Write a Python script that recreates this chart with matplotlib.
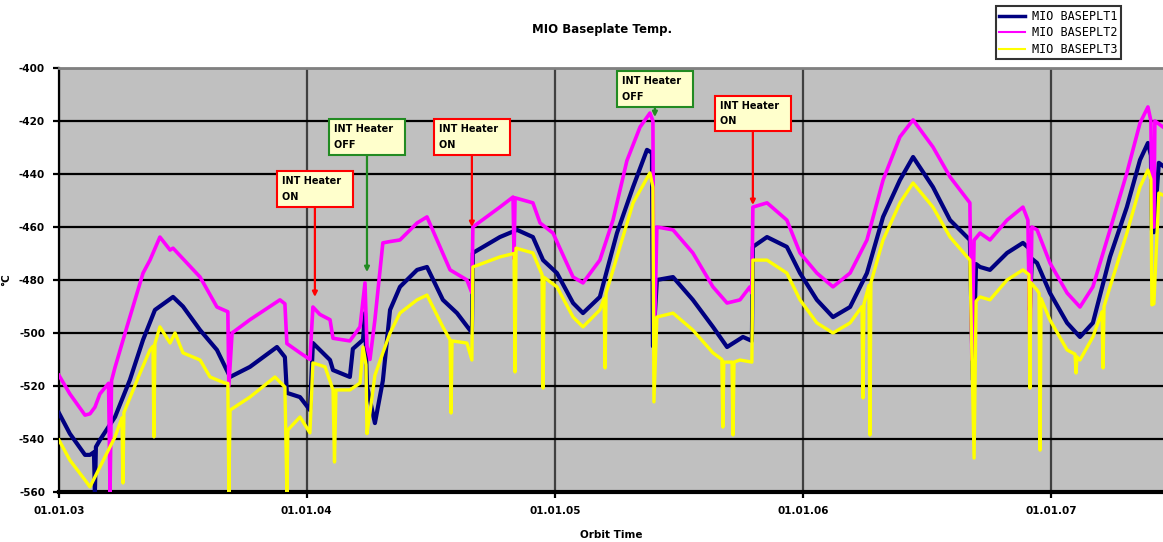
from datetime import datetime, timedelta

import matplotlib.pyplot as plt
import matplotlib.dates as mdates

plt.rcParams['axes.unicode_minus'] = False

# decimal-year time stamps and temperatures for each baseplate sensor
t_plt1 = [2003.000, 2003.044, 2003.105, 2003.125, 2003.141, 2003.145, 2003.149, 2003.165,
          2003.226, 2003.286, 2003.339, 2003.387, 2003.460, 2003.500, 2003.569, 2003.637,
          2003.690, 2003.770, 2003.879, 2003.911, 2003.919, 2003.972, 2004.012, 2004.024,
          2004.052, 2004.093, 2004.105, 2004.173, 2004.185, 2004.226, 2004.234, 2004.242,
          2004.254, 2004.274, 2004.306, 2004.335, 2004.375, 2004.444, 2004.484, 2004.548,
          2004.605, 2004.657, 2004.665, 2004.669, 2004.778, 2004.847, 2004.911, 2004.952,
          2005.008, 2005.073, 2005.113, 2005.181, 2005.250, 2005.315, 2005.371, 2005.391,
          2005.395, 2005.411, 2005.476, 2005.556, 2005.637, 2005.694, 2005.758, 2005.794,
          2005.798, 2005.855, 2005.935, 2005.988, 2006.056, 2006.121, 2006.190, 2006.258,
          2006.323, 2006.391, 2006.444, 2006.524, 2006.593, 2006.673, 2006.685, 2006.698,
          2006.714, 2006.754, 2006.823, 2006.887, 2006.911, 2006.915, 2006.923, 2006.944,
          2006.996, 2007.065, 2007.117, 2007.169, 2007.238, 2007.306, 2007.359, 2007.391,
          2007.403, 2007.407, 2007.415, 2007.435, 2007.452]
v_plt1 = [-530.2, -538.0, -546.0, -546.0, -545.0, -560.0, -543.0, -540.4,
          -531.7, -517.7, -502.6, -491.3, -486.4, -490.0, -498.9, -506.4,
          -516.6, -512.8, -505.3, -509.1, -522.6, -524.2, -529.1, -503.8,
          -506.4, -510.2, -514.0, -516.6, -506.0, -502.6, -492.5, -520.0,
          -525.3, -534.0, -518.0, -491.3, -482.6, -476.2, -475.1, -487.5,
          -492.5, -498.9, -500.0, -469.8, -463.8, -461.1, -463.8, -472.5,
          -477.4, -488.7, -492.5, -486.4, -462.3, -444.9, -430.9, -432.0,
          -505.0, -480.0, -478.9, -487.5, -497.7, -505.3, -501.5, -503.0,
          -467.5, -463.8, -467.5, -477.4, -487.5, -494.0, -490.2, -477.4,
          -456.2, -442.3, -433.6, -444.9, -457.4, -464.9, -517.7, -474.0,
          -475.1, -476.2, -469.8, -466.0, -468.0, -491.3, -472.0, -473.6,
          -484.9, -496.2, -501.5, -496.2, -471.3, -452.5, -434.7, -428.3,
          -433.0, -461.1, -462.0, -435.8, -437.0]

t_plt2 = [2003.000, 2003.044, 2003.105, 2003.125, 2003.145, 2003.165, 2003.200, 2003.206,
          2003.212, 2003.226, 2003.274, 2003.339, 2003.367, 2003.407, 2003.448, 2003.460,
          2003.500, 2003.569, 2003.637, 2003.681, 2003.685, 2003.698, 2003.770, 2003.891,
          2003.911, 2003.919, 2003.972, 2004.012, 2004.024, 2004.052, 2004.093, 2004.105,
          2004.173, 2004.214, 2004.234, 2004.242, 2004.254, 2004.274, 2004.306, 2004.335,
          2004.375, 2004.444, 2004.484, 2004.548, 2004.577, 2004.645, 2004.665, 2004.669,
          2004.778, 2004.831, 2004.835, 2004.839, 2004.911, 2004.940, 2004.992, 2005.073,
          2005.113, 2005.181, 2005.234, 2005.290, 2005.343, 2005.383, 2005.395, 2005.399,
          2005.411, 2005.476, 2005.556, 2005.637, 2005.694, 2005.746, 2005.786, 2005.794,
          2005.798, 2005.855, 2005.935, 2005.988, 2006.056, 2006.121, 2006.190, 2006.258,
          2006.323, 2006.391, 2006.444, 2006.524, 2006.593, 2006.673, 2006.681, 2006.690,
          2006.714, 2006.754, 2006.823, 2006.887, 2006.907, 2006.915, 2006.923, 2006.944,
          2006.996, 2007.065, 2007.117, 2007.169, 2007.238, 2007.306, 2007.359, 2007.391,
          2007.403, 2007.407, 2007.415, 2007.419, 2007.452]
v_plt2 = [-516.0, -523.0, -531.0, -530.5, -528.0, -523.0, -519.0, -560.0,
          -518.0, -513.0, -497.7, -477.4, -472.5, -463.8, -468.7, -468.0,
          -472.0, -478.9, -490.2, -492.0, -520.0, -500.0, -495.0, -487.5,
          -489.0, -504.0, -507.5, -510.0, -490.2, -493.0, -495.0, -502.0,
          -503.0, -497.7, -481.1, -505.0, -510.0, -495.0, -466.0, -465.5,
          -464.9, -458.5, -456.2, -470.0, -476.2, -480.0, -484.9, -460.0,
          -452.5, -448.7, -472.0, -449.0, -450.9, -458.5, -462.3, -478.9,
          -481.1, -472.5, -457.4, -435.0, -422.3, -417.0, -420.0, -510.0,
          -460.0, -461.1, -469.8, -482.6, -488.7, -487.5, -482.6, -485.0,
          -452.5, -450.9, -457.4, -469.8, -477.4, -482.6, -477.4, -464.9,
          -442.3, -426.0, -419.6, -429.8, -441.1, -450.9, -510.0, -465.0,
          -462.3, -464.9, -457.4, -452.5, -457.4, -506.0, -460.0, -461.1,
          -473.6, -484.9, -490.2, -482.6, -461.1, -439.6, -420.8, -414.7,
          -420.0, -460.0, -460.0, -420.0, -422.3]

t_plt3 = [2003.000, 2003.044, 2003.105, 2003.125, 2003.165, 2003.226, 2003.254, 2003.258,
          2003.262, 2003.266, 2003.327, 2003.367, 2003.379, 2003.383, 2003.387, 2003.407,
          2003.448, 2003.468, 2003.500, 2003.569, 2003.609, 2003.669, 2003.681, 2003.685,
          2003.690, 2003.770, 2003.871, 2003.911, 2003.919, 2003.923, 2003.972, 2004.012,
          2004.024, 2004.073, 2004.105, 2004.111, 2004.117, 2004.173, 2004.214, 2004.226,
          2004.238, 2004.242, 2004.254, 2004.274, 2004.306, 2004.335, 2004.375, 2004.444,
          2004.484, 2004.548, 2004.577, 2004.581, 2004.585, 2004.645, 2004.665, 2004.669,
          2004.778, 2004.835, 2004.839, 2004.843, 2004.911, 2004.948, 2004.952, 2004.956,
          2005.008, 2005.073, 2005.113, 2005.181, 2005.198, 2005.202, 2005.206, 2005.250,
          2005.315, 2005.383, 2005.395, 2005.399, 2005.411, 2005.476, 2005.556, 2005.637,
          2005.673, 2005.677, 2005.681, 2005.714, 2005.718, 2005.722, 2005.746, 2005.794,
          2005.798, 2005.855, 2005.935, 2005.988, 2006.056, 2006.121, 2006.190, 2006.238,
          2006.242, 2006.246, 2006.266, 2006.270, 2006.274, 2006.323, 2006.391, 2006.444,
          2006.524, 2006.593, 2006.673, 2006.690, 2006.698, 2006.714, 2006.754, 2006.823,
          2006.887, 2006.911, 2006.915, 2006.919, 2006.944, 2006.952, 2006.956, 2006.960,
          2006.996, 2007.065, 2007.097, 2007.101, 2007.105, 2007.117, 2007.169, 2007.206,
          2007.210, 2007.214, 2007.238, 2007.306, 2007.359, 2007.391, 2007.403, 2007.407,
          2007.415, 2007.435, 2007.452]
v_plt3 = [-540.4, -548.0, -555.5, -558.1, -550.6, -539.2, -532.0, -556.6,
          -530.0, -529.1, -515.1, -506.4, -505.0, -539.2, -504.0, -497.7,
          -503.8, -500.0, -507.5, -510.2, -516.6, -518.9, -519.0, -560.0,
          -529.1, -524.2, -516.6, -520.4, -560.0, -536.6, -531.7, -537.7,
          -511.3, -512.8, -521.5, -548.7, -521.5, -521.5, -518.9, -505.3,
          -512.0, -538.0, -530.0, -516.0, -507.5, -500.0, -492.5, -487.5,
          -485.7, -497.7, -502.6, -530.2, -503.0, -503.8, -510.2, -475.1,
          -471.3, -470.0, -514.7, -468.0, -469.8, -478.0, -520.8, -479.0,
          -482.6, -494.0, -497.7, -491.3, -487.0, -513.2, -485.0, -471.3,
          -450.9, -439.6, -445.0, -526.0, -494.0, -492.5, -498.9, -507.5,
          -510.0, -535.5, -511.0, -511.0, -538.5, -511.0, -510.2, -511.0,
          -472.5, -472.5, -477.4, -487.5, -496.2, -500.0, -496.2, -490.0,
          -524.5, -489.0, -482.0, -538.5, -481.0, -464.9, -450.9, -443.4,
          -452.5, -463.8, -472.5, -547.2, -488.0, -486.4, -487.5, -480.0,
          -476.2, -478.0, -520.8, -481.0, -483.8, -485.0, -544.2, -487.0,
          -495.1, -506.4, -508.0, -515.1, -509.0, -510.2, -501.5, -492.0,
          -513.2, -490.0, -482.6, -462.3, -444.9, -438.5, -442.0, -489.4,
          -489.0, -447.2, -448.0]

series_names = ['MIO BASEPLT1', 'MIO BASEPLT2', 'MIO BASEPLT3']
series_colors = ['#000080', '#FF00FF', '#FFFF00']

# heater switching events: time, arrow tip temperature, label box temperature, state
event_times = [2004.032, 2004.242, 2004.665, 2005.403, 2005.798]
event_tips = [-486.4, -477.0, -460.0, -418.5, -451.7]
event_boxes = [-445.7, -426.0, -426.0, -407.9, -417.2]
event_states = ['ON', 'OFF', 'ON', 'OFF', 'ON']


def to_dates(years):
    base = datetime(2003, 1, 1)
    return [base + timedelta(days=(y - 2003) * 365.25) for y in years]


fig = plt.figure(figsize=(11.63, 5.42), dpi=100)
ax = fig.add_axes([0.0507, 0.0923, 0.9493, 0.7823])
ax.set_facecolor('#C0C0C0')

data = [(t_plt1, v_plt1), (t_plt2, v_plt2), (t_plt3, v_plt3)]
widths = [3.0, 2.6, 2.4]
for (t, v), name, col, lw in zip(data, series_names, series_colors, widths):
    ax.plot(to_dates(t), v, color=col, lw=lw, label=name, zorder=3)

ax.set_ylim(-560, -400)
ax.set_yticks(range(-560, -399, 20))
ax.set_xlim(datetime(2003, 1, 1), datetime(2007, 6, 15))
ax.xaxis.set_major_locator(mdates.YearLocator())
ax.xaxis.set_major_formatter(mdates.DateFormatter('%d.%m.%y'))

ax.grid(axis='y', color='black', lw=1.6, zorder=1)
ax.grid(axis='x', color='#404040', lw=1.6, zorder=1)
ax.set_axisbelow(True)

ax.spines['right'].set_visible(False)
ax.spines['top'].set_color('#808080')
ax.spines['top'].set_linewidth(2)
ax.spines['left'].set_linewidth(1.6)
ax.spines['bottom'].set_linewidth(3)

ax.tick_params(axis='both', labelsize=7.5, length=4, width=1.6, pad=6)
for lbl in ax.get_xticklabels() + ax.get_yticklabels():
    lbl.set_fontweight('bold')

ax.set_xlabel('Orbit Time', fontsize=7.5, fontweight='bold', labelpad=10)
ax.set_ylabel('°C', fontsize=7.5, fontweight='bold')
ax.yaxis.set_label_coords(-0.043, 0.5)
fig.text(0.518, 0.945, 'MIO Baseplate Temp.', ha='center', va='center',
         fontsize=8.5, fontweight='bold')

for t, tip, box, state in zip(event_times, event_tips, event_boxes, event_states):
    col = '#FF0000' if state == 'ON' else '#228B22'
    d = to_dates([t])[0]
    ax.annotate('INT Heater  \n' + state.ljust(11), xy=(d, tip), xytext=(d, box),
                ha='center', va='center', fontsize=7, linespacing=1.7,
                fontweight='bold', multialignment='left',
                bbox=dict(boxstyle='square,pad=0.5', fc='#FFFFCC', ec=col, lw=1.5),
                arrowprops=dict(arrowstyle='-|>', color=col, lw=1.6,
                                mutation_scale=7, shrinkA=0, shrinkB=0),
                zorder=5)

leg = fig.legend(loc='upper left', bbox_to_anchor=(0.853, 0.995),
                 prop={'family': 'DejaVu Sans Mono', 'size': 8.5},
                 frameon=True, fancybox=False, edgecolor='black',
                 handlelength=2.2, handletextpad=0.6, borderpad=0.3,
                 borderaxespad=0.3, labelspacing=0.3)
leg.get_frame().set_linewidth(1.5)
for h, lw in zip(leg.get_lines(), [2.5, 1.5, 1.5]):
    h.set_linewidth(lw)

# widen the legend frame to leave room on the right like the original layout
fig.canvas.draw()
frame = leg.get_frame()
frame.set_width(frame.get_width() + 22)

fig.savefig('out.png', dpi=100)
